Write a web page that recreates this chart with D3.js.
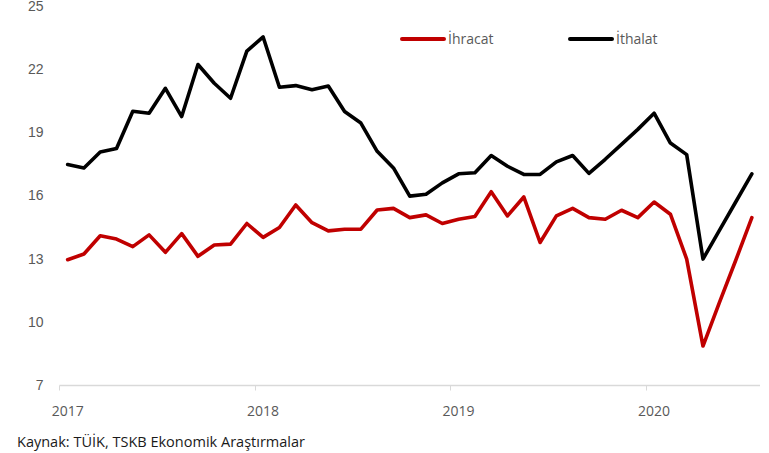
<!DOCTYPE html>
<html>
<head>
<meta charset="utf-8">
<script src="https://cdn.jsdelivr.net/npm/d3@7"></script>
<style>
  html, body { margin: 0; padding: 0; background: #fff; }
  svg { display: block; font-family: 'Open Sans', 'Noto Sans', sans-serif; }
  .tick text { fill: #595959; font-size: 14px; }
  .legend-label { fill: #595959; font-size: 14px; }
  .source { fill: #1a1a1a; font-size: 14px; }
</style>
</head>
<body>
<div id="chart"></div>
<script>
// Aylık seriler, Ocak 2017 - Temmuz 2020
const months = d3.timeMonth.range(new Date(2017, 0, 1), new Date(2020, 7, 1));

const ihracat = [
  12.95, 13.22, 14.09, 13.93, 13.57, 14.13, 13.3, 14.19, 13.11, 13.65, 13.69, 14.67,
  14.01, 14.48, 15.55, 14.71, 14.32, 14.4, 14.4, 15.31, 15.39, 14.95, 15.08, 14.67,
  14.87, 15.0, 16.18, 15.03, 15.93, 13.77, 15.03, 15.39, 14.95, 14.87, 15.3, 14.95,
  15.69, 15.11, 12.98, 8.85, 10.9, 12.9, 14.95
];

const ithalat = [
  17.47, 17.31, 18.07, 18.23, 20.0, 19.91, 21.09, 19.75, 22.22, 21.33, 20.62, 22.86,
  23.53, 21.14, 21.22, 21.02, 21.2, 19.99, 19.44, 18.1, 17.31, 15.97, 16.06, 16.6,
  17.03, 17.08, 17.9, 17.39, 17.0, 17.0, 17.6, 17.9, 17.05, 17.72, 18.43, 19.14,
  19.91, 18.49, 17.94, 12.98, 14.33, 15.68, 17.03
];

const yTicks = [7, 10, 13, 16, 19, 22, 25];

const series = [
  { name: 'İhracat', values: ihracat, color: '#c00000' },
  { name: 'İthalat', values: ithalat, color: '#000000' }
];

const width = 769;
const height = 453;

const svg = d3.select('#chart').append('svg').attr('width', width).attr('height', height);

const x = d3.scaleBand().domain(d3.range(months.length)).range([59.5, 760]).padding(0);
const y = d3.scaleLinear().domain([7, 25]).range([385, 6]);
const cx = (i) => x(i) + x.bandwidth() / 2;

// y ekseni: sadece etiketler
svg.append('g')
  .attr('transform', 'translate(59.5,0)')
  .call(d3.axisLeft(y).tickValues(yTicks).tickSize(0).tickPadding(16))
  .call((g) => g.select('.domain').remove());

// x ekseni
const janIdx = months.map((m, i) => i).filter((i) => months[i].getMonth() === 0);
const xAxis = svg.append('g').attr('transform', 'translate(0,385.5)');
xAxis.append('line')
  .attr('x1', x.range()[0]).attr('x2', x.range()[1])
  .attr('stroke', '#d9d9d9').attr('stroke-width', 1.5);
xAxis.selectAll('line.yr')
  .data(janIdx)
  .join('line')
  .attr('class', 'yr')
  .attr('x1', (i) => Math.round(x(i)) + 0.5).attr('x2', (i) => Math.round(x(i)) + 0.5)
  .attr('y1', 0).attr('y2', 5)
  .attr('stroke', '#d9d9d9').attr('stroke-width', 1);
xAxis.selectAll('text')
  .data(janIdx)
  .join('text')
  .attr('class', 'tick')
  .attr('x', (i) => cx(i))
  .attr('y', 30)
  .attr('text-anchor', 'middle')
  .attr('fill', '#595959')
  .attr('font-size', 14)
  .text((i) => d3.timeFormat('%Y')(months[i]));

// çizgiler
const line = d3.line().x((d, i) => cx(i)).y((d) => y(d));
svg.selectAll('path.series')
  .data(series)
  .join('path')
  .attr('class', 'series')
  .attr('d', (s) => line(s.values))
  .attr('fill', 'none')
  .attr('stroke', (s) => s.color)
  .attr('stroke-width', 3.6)
  .attr('stroke-linejoin', 'round')
  .attr('stroke-linecap', 'round');

// lejant
const legendX = [402, 570];
const legend = svg.selectAll('g.legend')
  .data(series)
  .join('g')
  .attr('class', 'legend')
  .attr('transform', (s, i) => `translate(${legendX[i]},39)`);
legend.append('line')
  .attr('x1', 0).attr('x2', 42)
  .attr('stroke', (s) => s.color)
  .attr('stroke-width', 4)
  .attr('stroke-linecap', 'round');
legend.append('text')
  .attr('class', 'legend-label')
  .attr('x', 46)
  .attr('dy', '0.35em')
  .text((s) => s.name);

svg.append('text')
  .attr('class', 'source')
  .attr('x', 17)
  .attr('y', 447)
  .attr('textLength', 288)
  .attr('lengthAdjust', 'spacingAndGlyphs')
  .text('Kaynak: TÜİK, TSKB Ekonomik Araştırmalar');
</script>
</body>
</html>
